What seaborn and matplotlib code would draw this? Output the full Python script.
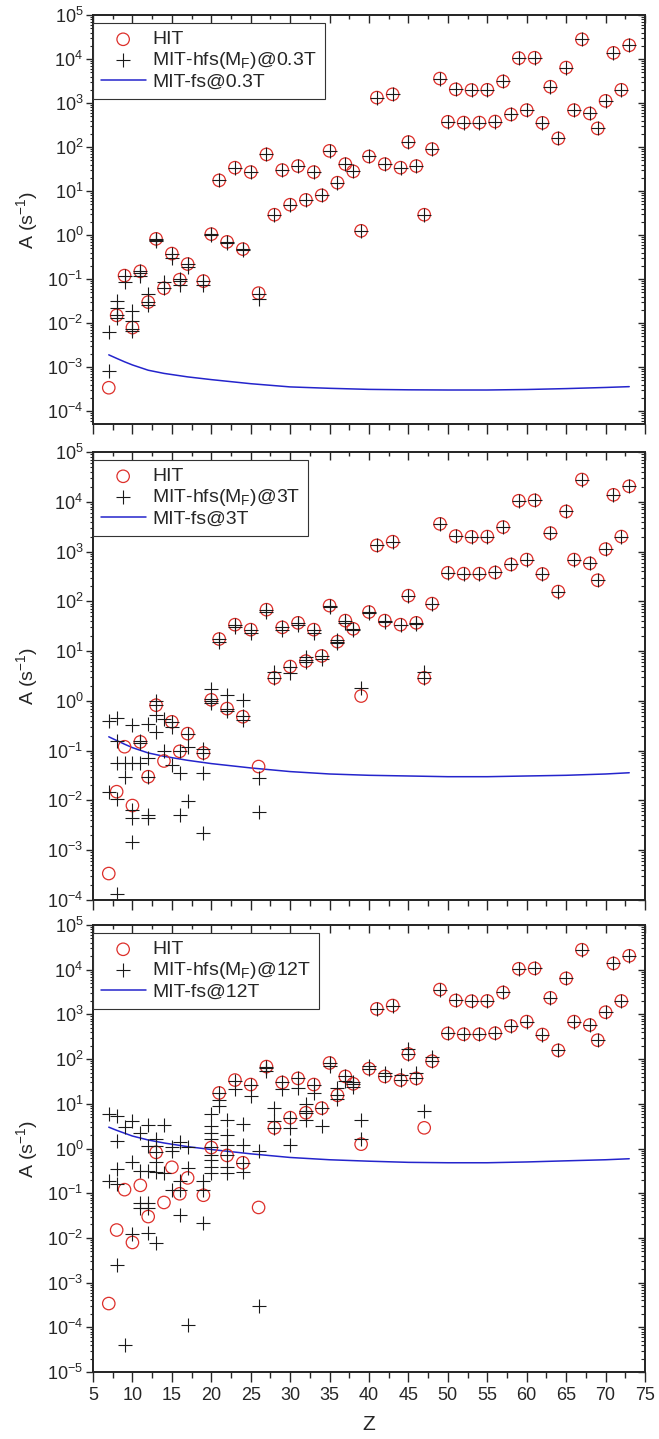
import matplotlib
matplotlib.use('Agg')
import matplotlib.pyplot as plt
import seaborn as sns
from matplotlib.ticker import MultipleLocator, LogLocator, NullFormatter

# ---- data ----
# HIT radiative rates, A (s^-1) vs Z
hit_z = [7, 8, 9, 10, 11, 12, 13, 14, 15, 16, 17, 19, 20, 21, 22, 23, 24, 25, 26,
         27, 28, 29, 30, 31, 32, 33, 34, 35, 36, 37, 38, 39, 40, 41, 42, 43, 44, 45,
         46, 47, 48, 49, 50, 51, 52, 53, 54, 55, 56, 57, 58, 59, 60, 61, 62, 63, 64,
         65, 66, 67, 68, 69, 70, 71, 72, 73]
hit_a = [3.4e-4, 0.015, 0.12, 0.0079, 0.15, 0.03, 0.82, 0.062, 0.38, 0.097, 0.22, 0.09,
         1.05, 17.5, 0.7, 34, 0.48, 27, 0.048,
         68, 2.9, 30, 4.9, 37, 6.3, 27, 8.0, 82, 15.5, 41, 28, 1.25, 61, 1330, 41, 1580,
         34, 130, 37, 2.9, 90, 3600, 375, 2050, 360, 1980, 360, 2000, 380, 3100, 550,
         10500, 690, 10700, 355, 2350, 157, 6400, 690, 28000, 580, 265, 1120, 13800,
         2000, 20500]

# MIT-hfs crosses, high Z part (same in all three fields)
hfs_high_z = [49, 50, 51, 52, 53, 54, 55, 56, 57, 58, 59, 60, 61, 62, 63, 64, 65,
              66, 67, 68, 69, 70, 71, 72, 73]
hfs_high_a = [3600, 375, 2050, 360, 1980, 360, 2000, 380, 3100, 550, 10500, 690,
              10700, 355, 2350, 157, 6400, 690, 28000, 580, 265, 1120, 13800, 2000, 20500]

# MIT-hfs crosses for Z <= 48, per field
hfs_03T = {7: [6.3e-3, 8.1e-4], 8: [0.032, 0.022, 0.015, 0.013], 9: [0.12, 0.088],
           10: [0.019, 0.011, 0.0075, 0.0066], 11: [0.15, 0.14, 0.12],
           12: [0.046, 0.03, 0.026], 13: [0.82, 0.78, 0.72], 14: [0.085, 0.062],
           15: [0.38, 0.3], 16: [0.1, 0.09, 0.075], 17: [0.22, 0.19], 19: [0.09, 0.072],
           20: [1.05, 1.0], 21: [17.5], 22: [0.7, 0.66], 23: [34], 24: [0.48, 0.46],
           25: [27], 26: [0.046, 0.036], 27: [68], 28: [2.9], 29: [30], 30: [4.9],
           31: [37], 32: [6.3], 33: [27], 34: [8.0], 35: [82], 36: [15.5], 37: [41],
           38: [28], 39: [1.25], 40: [61], 41: [1330], 42: [41], 43: [1580], 44: [34],
           45: [130], 46: [37], 47: [2.9], 48: [90]}

hfs_3T = {7: [0.40, 0.015], 8: [0.46, 0.16, 0.057, 0.0105, 1.3e-4], 9: [0.057, 0.030],
          10: [0.33, 0.057, 0.0064, 0.0044, 0.00144], 11: [0.16, 0.14, 0.056],
          12: [0.35, 0.07, 0.03, 0.0051, 0.0044], 13: [1.0, 0.82, 0.52, 0.24],
          14: [0.44, 0.10], 15: [0.38, 0.3, 0.051], 16: [0.1, 0.035, 0.005],
          17: [0.22, 0.12, 0.0097], 19: [0.11, 0.09, 0.035, 0.0022],
          20: [1.77, 1.1, 1.0, 0.9], 21: [17.5, 15], 22: [1.3, 0.7, 0.62], 23: [34, 31],
          24: [1.05, 0.49, 0.42], 25: [27, 23], 26: [0.028, 0.0059], 27: [68, 62],
          28: [3.8, 2.9], 29: [30, 26], 30: [4.9, 3.6], 31: [37, 33], 32: [7.5, 6.5, 6.0],
          33: [27, 23], 34: [8.0, 7.0], 35: [82, 76], 36: [17, 15.5, 14.5], 37: [41, 37],
          38: [28, 26], 39: [1.8], 40: [61, 58], 41: [1330], 42: [41, 38], 43: [1580],
          44: [34], 45: [130], 46: [37, 35], 47: [3.8, 2.9], 48: [90]}

hfs_12T = {7: [5.8, 0.19], 8: [5.3, 1.46, 0.34, 0.157, 0.0025], 9: [3.1, 4.1e-5],
           10: [4.1, 0.49, 0.012], 11: [2.2, 0.31, 0.06, 0.047],
           12: [3.4, 1.12, 0.31, 0.061, 0.047, 0.013],
           13: [1.6, 1.13, 0.85, 0.5, 0.3, 0.0078], 14: [3.3, 0.29],
           15: [1.1, 0.87, 0.117], 16: [1.4, 0.19, 0.117, 0.033], 17: [1.1, 0.37, 1.1e-4],
           19: [0.19, 0.12, 0.022], 20: [5.8, 3.2, 2.2, 1.6, 1.1, 0.73, 0.55, 0.39, 0.28],
           21: [17.5, 12, 8.8], 22: [4.3, 2.0, 1.2, 0.72, 0.39, 0.28], 23: [32, 21],
           24: [3.5, 1.2, 0.48, 0.3], 25: [27, 14.6], 26: [0.87, 3e-4], 27: [68, 63, 55],
           28: [8.1, 4.1, 2.9], 29: [30, 21], 30: [4.9, 2.9, 1.2], 31: [37, 22],
           32: [10, 7, 6.1, 4.3], 33: [27, 17], 34: [8.1, 3.2], 35: [82, 70],
           36: [22, 15.5, 13], 37: [41, 33], 38: [30, 28, 24], 39: [4.4, 1.6],
           40: [70, 61], 41: [1330], 42: [50, 41], 43: [1580], 44: [45, 34],
           45: [165, 130], 46: [48, 37], 47: [6.9], 48: [110, 90]}

# MIT-fs curves
fs_z = [7, 8, 9, 10, 12, 14, 17, 20, 25, 30, 35, 40, 45, 50, 55, 60, 65, 70, 73]
fs_03T = [1.9e-3, 1.58e-3, 1.32e-3, 1.12e-3, 8.5e-4, 7.2e-4, 6.0e-4, 5.2e-4, 4.2e-4,
          3.55e-4, 3.3e-4, 3.12e-4, 3.05e-4, 3.02e-4, 3.02e-4, 3.1e-4, 3.25e-4,
          3.45e-4, 3.6e-4]
fs_3T = [0.19, 0.16, 0.135, 0.115, 0.09, 0.077, 0.064, 0.055, 0.045, 0.038, 0.034,
         0.032, 0.031, 0.030, 0.030, 0.031, 0.032, 0.034, 0.036]
fs_12T = [3.0, 2.55, 2.2, 1.9, 1.55, 1.33, 1.1, 0.95, 0.76, 0.63, 0.56, 0.52, 0.49,
          0.48, 0.48, 0.5, 0.53, 0.56, 0.59]

fields = ['0.3T', '3T', '12T']
hfs_sets = [hfs_03T, hfs_3T, hfs_12T]
fs_sets = [fs_03T, fs_3T, fs_12T]
ylims = [(5.1e-5, 1e5), (1e-4, 1e5), (1e-5, 1e5)]

RED = '#dd2f2a'
BLUE = '#2424cc'
DARK = '#1a1a1a'

sns.set_style('ticks')
plt.rcParams['font.family'] = ['Liberation Sans', 'DejaVu Sans']
plt.rcParams['mathtext.fontset'] = 'custom'
plt.rcParams['mathtext.rm'] = 'Liberation Sans'
plt.rcParams['mathtext.it'] = 'Liberation Sans:italic'
plt.rcParams['axes.linewidth'] = 1.1

W, H = 659, 1439
fig = plt.figure(figsize=(W / 100, H / 100), dpi=100)

# axes boxes in pixels: (top, bottom)
boxes = [(15, 424), (452, 900), (925, 1372)]
left_px, right_px = 93, 645


def flatten(d):
    zz, aa = [], []
    for z, vals in d.items():
        for v in vals:
            zz.append(z)
            aa.append(v)
    return zz + hfs_high_z, aa + hfs_high_a


for i, (field, hfs, fs, ylim, (top, bot)) in enumerate(zip(fields, hfs_sets, fs_sets, ylims, boxes)):
    ax = fig.add_axes([left_px / W, 1 - bot / H, (right_px - left_px) / W, (bot - top) / H])
    ax.set_yscale('log')

    cz, ca = flatten(hfs)
    sns.lineplot(x=fs_z, y=fs, ax=ax, color=BLUE, lw=1.1, label=f'MIT-fs@{field}', zorder=2)
    sns.scatterplot(x=hit_z, y=hit_a, ax=ax, marker='o', s=80, facecolor='none',
                    edgecolor=RED, linewidth=0.9, label='HIT', zorder=3)
    sns.scatterplot(x=cz, y=ca, ax=ax, marker='+', s=110, color=DARK, linewidth=0.8,
                    label=r'MIT-hfs(M$_\mathregular{F}$)@' + field, zorder=4)

    ax.set_xlim(5, 75)
    ax.set_ylim(*ylim)
    ax.xaxis.set_major_locator(MultipleLocator(5))
    ax.xaxis.set_minor_locator(MultipleLocator(2.5))
    ax.yaxis.set_major_locator(LogLocator(base=10, numticks=30))
    ax.yaxis.set_minor_locator(LogLocator(base=10, subs=[2, 3, 4, 5, 6, 7, 8, 9], numticks=30))
    ax.yaxis.set_minor_formatter(NullFormatter())
    ax.tick_params(axis='x', which='major', direction='out', length=7, width=1,
                   labelsize=13, pad=4, labelbottom=(i == 2))
    ax.tick_params(axis='x', which='minor', direction='out', length=4, width=1)
    ax.tick_params(axis='y', which='major', direction='out', length=5, width=1,
                   labelsize=13, pad=2)
    ax.tick_params(axis='y', which='minor', direction='out', length=2.5, width=0.8)

    # inward ticks on the right and top
    ax_r = ax.twinx()
    ax_r.set_yscale('log')
    ax_r.set_ylim(*ylim)
    ax_r.yaxis.set_major_locator(LogLocator(base=10, numticks=30))
    ax_r.yaxis.set_minor_locator(LogLocator(base=10, subs=[2, 3, 4, 5, 6, 7, 8, 9], numticks=30))
    ax_r.yaxis.set_minor_formatter(NullFormatter())
    ax_r.tick_params(axis='y', which='major', direction='in', length=5, width=1, labelright=False)
    ax_r.tick_params(axis='y', which='minor', direction='in', length=3, width=0.8)
    ax_t = ax.twiny()
    ax_t.set_xlim(5, 75)
    ax_t.xaxis.set_major_locator(MultipleLocator(5))
    ax_t.xaxis.set_minor_locator(MultipleLocator(2.5))
    ax_t.tick_params(axis='x', which='major', direction='in', length=6, width=1, labeltop=False)
    ax_t.tick_params(axis='x', which='minor', direction='in', length=3, width=1)

    ax.set_ylabel(r'A (s$^\mathregular{-1}$)', fontsize=14)
    ax.yaxis.set_label_coords(-0.096, 0.5)
    if i == 2:
        ax.set_xlabel('Z', fontsize=15)
        ax.xaxis.set_label_coords(0.5, -0.096)
    else:
        ax.set_xlabel('')

    handles, labels = ax.get_legend_handles_labels()
    order = [1, 2, 0]
    leg = ax_t.legend([handles[k] for k in order], [labels[k] for k in order],
                      loc='upper left', bbox_to_anchor=(0.0, 1 - 8 / (bot - top)),
                      borderaxespad=0, frameon=True, fancybox=False, edgecolor='#333333',
                      framealpha=1, fontsize=14, handlelength=2.3, handletextpad=0.35,
                      labelspacing=0.1, borderpad=0.4, scatterpoints=1)
    leg.get_frame().set_linewidth(0.8)
    if ax.get_legend() is not None:
        ax.get_legend().remove()

fig.savefig('out.png', dpi=100)
